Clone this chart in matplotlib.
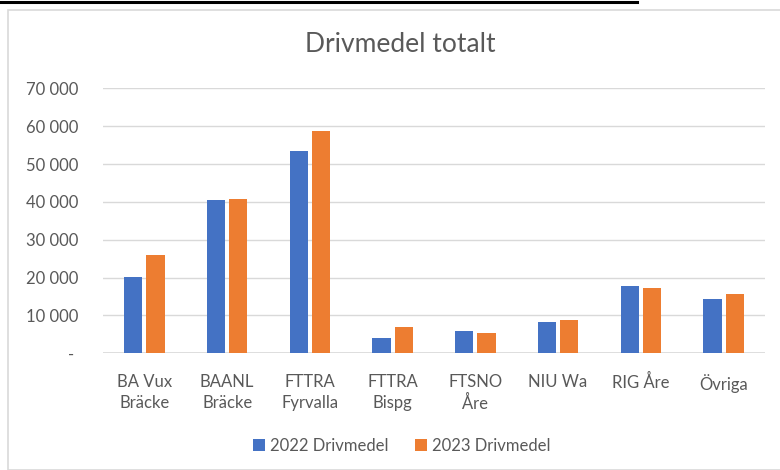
import matplotlib
matplotlib.use("Agg")
import matplotlib.pyplot as plt
from matplotlib.patches import Rectangle
from matplotlib.lines import Line2D
import numpy as np

categories = ["BA Vux\nBräcke", "BAANL\nBräcke", "FTTRA\nFyrvalla", "FTTRA\nBispg",
              "FTSNO\nÅre", "NIU Wa", "RIG Åre", "Övriga"]
drivmedel_2022 = [20100, 40400, 53400, 4100, 5800, 8200, 17900, 14400]
drivmedel_2023 = [25900, 40800, 58600, 6900, 5300, 8700, 17300, 15600]
series_labels = ["2022 Drivmedel", "2023 Drivmedel"]
yticks = [0, 10000, 20000, 30000, 40000, 50000, 60000, 70000]

C_BLUE = "#4472C4"
C_ORANGE = "#ED7D31"
C_TEXT = "#595959"
C_GRID = "#d9d9d9"
FONT = "Lato"

fig = plt.figure(figsize=(7.8, 4.7), dpi=100)

# chart frame + caption underline
fig.patches.append(Rectangle((8 / 780, 0), 1.2, 1 - 10 / 470, transform=fig.transFigure,
                             facecolor="white", edgecolor="#d9d9d9", linewidth=1.2,
                             zorder=-5))
fig.lines.append(Line2D([0, 637 / 780], [1 - 2 / 470, 1 - 2 / 470], transform=fig.transFigure,
                        color="black", linewidth=2.2))

ax = fig.add_axes([103 / 780, 1 - 353.3 / 470, (765 - 103) / 780, (353.3 - 88.3) / 470])
ax.set_facecolor("none")

x = np.arange(len(categories))
w = 0.22
gap = 0.05
ax.bar(x - (w + gap) / 2, drivmedel_2022, w, color=C_BLUE, label=series_labels[0], zorder=3)
ax.bar(x + (w + gap) / 2, drivmedel_2023, w, color=C_ORANGE, label=series_labels[1], zorder=3)

ax.set_xlim(-0.5, len(categories) - 0.5)
ax.set_ylim(0, 70000)
ax.set_yticks(yticks)
ax.set_yticklabels(["- "] + [f"{v // 1000} 000" for v in yticks[1:]])
ax.set_xticks(x)
ax.set_xticklabels(categories, linespacing=1.35)
ax.grid(axis="y", color=C_GRID, linewidth=1.0, zorder=0)
for s in ax.spines.values():
    s.set_visible(False)
ax.axhline(0, color=C_GRID, linewidth=1.2, zorder=2)
ax.tick_params(length=0, labelsize=12, labelcolor=C_TEXT)
ax.tick_params(axis="y", pad=18)
ax.tick_params(axis="x", pad=15)
for lab in ax.get_xticklabels() + ax.get_yticklabels():
    lab.set_fontfamily(FONT)

fig.text(400 / 780, 1 - 45 / 470, "Drivmedel totalt", ha="center", va="center",
         fontsize=19, color=C_TEXT, family=FONT)

fig.legend(loc="center", bbox_to_anchor=(402 / 780, 1 - 446 / 470), ncol=2, frameon=False,
           prop={"family": FONT, "size": 12}, labelcolor=C_TEXT, handlelength=0.7,
           handleheight=0.7, handletextpad=0.3, columnspacing=1.6)

fig.savefig("out.png", dpi=100)
